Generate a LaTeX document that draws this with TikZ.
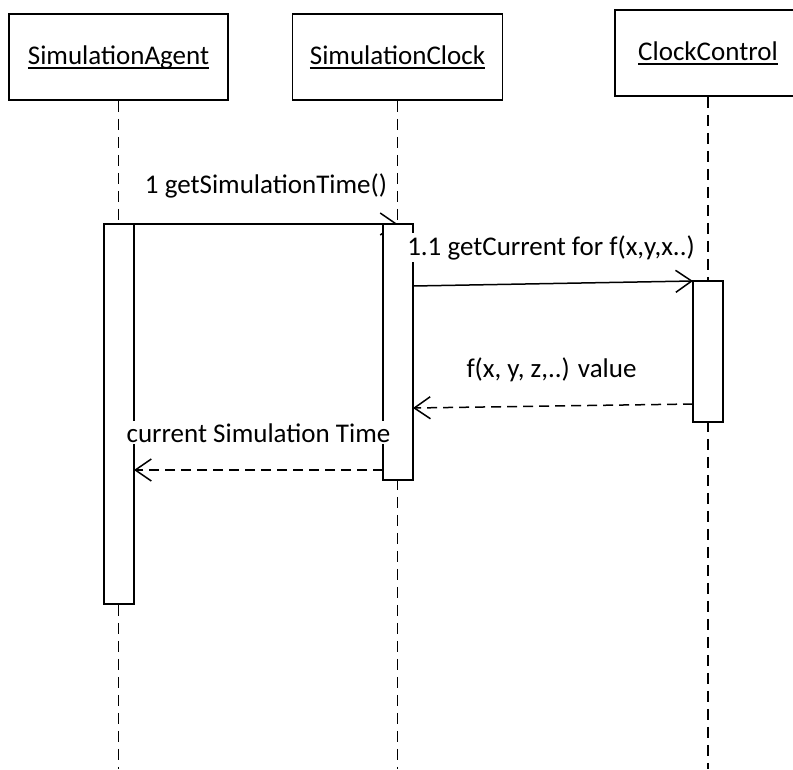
\documentclass[tikz,border=0pt]{standalone}
\usepackage{fontspec}
\setmainfont{Carlito}
\usetikzlibrary{arrows.meta}

% underline sitting just below the baseline, crossing descenders
\newcommand\objname[1]{\leavevmode\setbox0\hbox{#1}\rlap{\rule[-4.6pt]{\wd0}{1.4pt}}\box0}

\begin{document}
\begin{tikzpicture}[x=1pt,y=-1pt,
  every node/.style={font=\fontsize{27}{32}\selectfont},
  objbox/.style={draw, line width=1.5pt, fill=white, inner sep=0pt},
  lifeline/.style={line width=1.5pt, dash pattern=on 11pt off 7pt},
  actbox/.style={draw, line width=1.5pt, fill=white, minimum width=30pt, inner sep=0pt},
  call/.style={line width=1.5pt, -{Straight Barb[length=16pt,width=22pt,line width=1.5pt]}},
  reply/.style={call, dash pattern=on 10pt off 6pt},
  msg/.style={anchor=base, fill=white, inner sep=2pt}]
\useasboundingbox (0,0) rectangle (793,769);
\clip (0,0) rectangle (793,769);

% object heads
\node[objbox, minimum width=219pt, minimum height=86pt] (agent) at (118.5,57) {\objname{SimulationAgent}};
\node[objbox, minimum width=210pt, minimum height=86pt] (clock) at (397.5,57) {\objname{SimulationClock}};
\node[objbox, minimum width=186pt, minimum height=86pt] (ctrl) at (708,53) {\objname{ClockControl}};

% lifeline ends
\coordinate (agentend) at (118.5,769);
\coordinate (clockend) at (397.5,769);
\coordinate (ctrlend) at (708,769);

\draw[lifeline] (agent.south) -- (agentend);
\draw[lifeline] (clock.south) -- (clockend);
\draw[lifeline] (ctrl.south) -- (ctrlend);

% message end points
\coordinate (m1s) at (119,224);
\coordinate (m1e) at (397.5,224);
\coordinate (m2s) at (413,286);
\coordinate (m2e) at (693,281);
\coordinate (r2s) at (693,404);
\coordinate (r2e) at (413,408);
\coordinate (r1s) at (383,470);
\coordinate (r1e) at (134,470);

\draw[call] (m1s) -- (m1e);
\draw[call] (m2s) -- (m2e);
\draw[reply] (r2s) -- (r2e);
\draw[reply] (r1s) -- (r1e);

% activation bars
\node[actbox, minimum height=380pt] (agentact) at (119,414) {};
\node[actbox, minimum height=256pt] (clockact) at (398,352) {};
\node[actbox, minimum height=141pt] (ctrlact) at (708,351.5) {};

% message labels
\node[msg] (l1) at (266,193) {1 getSimulationTime()};
\node[msg] (l2) at (551,255) {1.1 getCurrent for f(x,y,x..)};
\node[msg] (l3) at (551.5,377) {f(x, y, z,..) value};
\node[msg] (l4) at (258.5,442) {current Simulation Time};
\end{tikzpicture}
\end{document}
